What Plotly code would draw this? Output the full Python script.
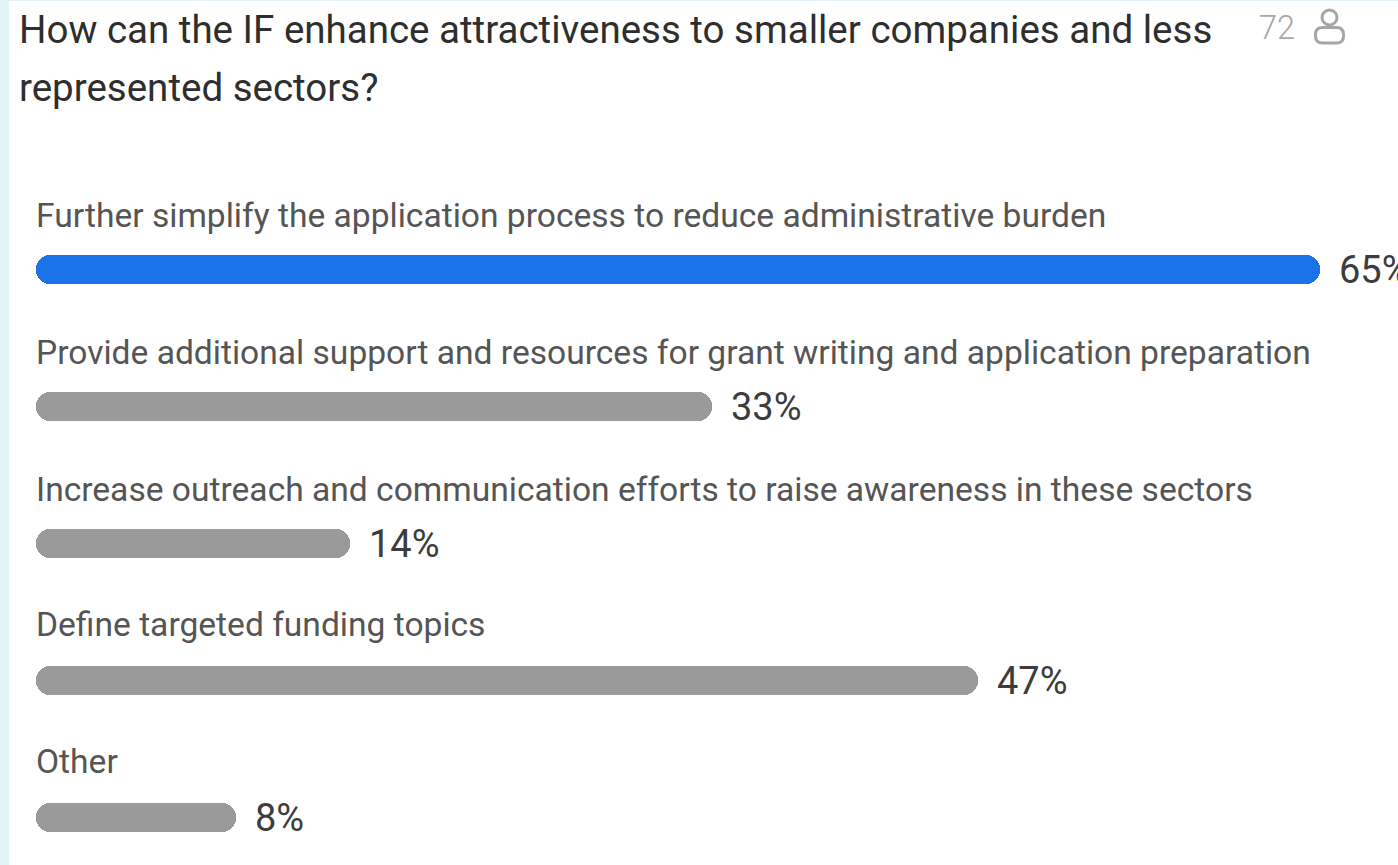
import plotly.graph_objects as go

# Poll question, answer options and the share of respondents for each
question_lines = ["How can the IF enhance attractiveness to smaller companies and less", "represented sectors?"]
respondents = "72"
options = [
    "Further simplify the application process to reduce administrative burden",
    "Provide additional support and resources for grant writing and application preparation",
    "Increase outreach and communication efforts to raise awareness in these sectors",
    "Define targeted funding topics",
    "Other",
]
shares = [65, 33, 14, 47, 8]
bar_colors = ["#1a73e8", "#9a9a9a", "#9a9a9a", "#9a9a9a", "#9a9a9a"]

W, H = 1398, 865
FONT = "Roboto"
PX_PER_PCT = 19.02   # horizontal scale of the bars
ZERO_X = 84          # pixel position of 0%
ROW_GAP = 137        # pixels between rows
FIRST_ROW_Y = 269    # pixel centre of the first bar
BAR_H = 29
STUB = 48 / PX_PER_PCT  # every bar starts slightly left of 0 so small values keep a visible pill
CAPTION_LIFT = [54, 54, 54, 56, 56]  # caption offset above each bar, pixels

fig = go.Figure(
    go.Bar(
        y=list(range(len(options))),
        x=[s + STUB for s in shares],
        base=[-STUB] * len(shares),
        orientation="h",
        width=BAR_H / ROW_GAP,
        marker=dict(color=bar_colors, cornerradius=14, line=dict(width=0)),
        hoverinfo="skip",
    )
)

annotations = []
# Option captions above each bar and percentage labels at each bar's end
for i, (opt, s) in enumerate(zip(options, shares)):
    annotations.append(dict(
        x=-STUB, y=i, xref="x", yref="y", text=opt, showarrow=False,
        xanchor="left", yanchor="middle", xshift=-2.5, yshift=CAPTION_LIFT[i],
        font=dict(family=FONT, size=33.6, color="#555555"),
    ))
    annotations.append(dict(
        x=s, y=i, xref="x", yref="y", text=f"{s}%", showarrow=False,
        xanchor="left", yanchor="middle", xshift=17, yshift=-1,
        font=dict(family=FONT, size=38, color="#3c3c3c"),
    ))

# Question title, two lines
for line, py in zip(question_lines, (29, 87)):
    annotations.append(dict(
        x=19 / W, y=1 - py / H, xref="paper", yref="paper", text=line, showarrow=False,
        xanchor="left", yanchor="middle", xshift=-2,
        font=dict(family=FONT, size=38.5, color="#2e2e2e"),
    ))

# Respondent count beside the person icon
annotations.append(dict(
    x=1297 / W, y=1 - 28 / H, xref="paper", yref="paper", text=respondents, showarrow=False,
    xanchor="right", yanchor="middle",
    font=dict(family=FONT, size=32.5, color="#a6a6a6", weight=300),
))

def px_shape(kind, x0, y0, x1, y1, **kw):
    return dict(type=kind, xref="paper", yref="paper", x0=x0 / W, x1=x1 / W,
                y0=1 - y0 / H, y1=1 - y1 / H, **kw)

icon_line = dict(color="#a6a6a6", width=3)

def rounded_box(l, t, r, b, rad):
    fx = lambda v: v / W
    fy = lambda v: 1 - v / H
    return (
        f"M {fx(l + rad)},{fy(t)} L {fx(r - rad)},{fy(t)} Q {fx(r)},{fy(t)} {fx(r)},{fy(t + rad)} "
        f"L {fx(r)},{fy(b - rad)} Q {fx(r)},{fy(b)} {fx(r - rad)},{fy(b)} "
        f"L {fx(l + rad)},{fy(b)} Q {fx(l)},{fy(b)} {fx(l)},{fy(b - rad)} "
        f"L {fx(l)},{fy(t + rad)} Q {fx(l)},{fy(t)} {fx(l + rad)},{fy(t)} Z"
    )

shapes = [
    # Page tint showing along the left and top edges of the white card
    px_shape("rect", 0, 0, 9, H, fillcolor="#e3f3f9", line_width=0, layer="below"),
    px_shape("rect", 0, 0, W, 1, fillcolor="#e3f3f9", line_width=0, layer="below"),
    # Person icon
    px_shape("circle", 1322, 10, 1337, 25, line=icon_line),
    dict(type="path", xref="paper", yref="paper",
         path=rounded_box(1315.5, 27.5, 1343.5, 43, 7), line=icon_line),
]

fig.update_layout(
    width=W, height=H, autosize=False,
    margin=dict(l=0, r=0, t=0, b=0),
    paper_bgcolor="white", plot_bgcolor="white",
    showlegend=False, bargap=0,
    font=dict(family=FONT),
    xaxis=dict(
        range=[-ZERO_X / PX_PER_PCT, (W - ZERO_X) / PX_PER_PCT],
        visible=False, fixedrange=True,
    ),
    yaxis=dict(
        range=[(H - FIRST_ROW_Y) / ROW_GAP, -FIRST_ROW_Y / ROW_GAP],
        visible=False, fixedrange=True,
    ),
    annotations=annotations,
    shapes=shapes,
)

fig.write_html("out.html", config=dict(displayModeBar=False))
